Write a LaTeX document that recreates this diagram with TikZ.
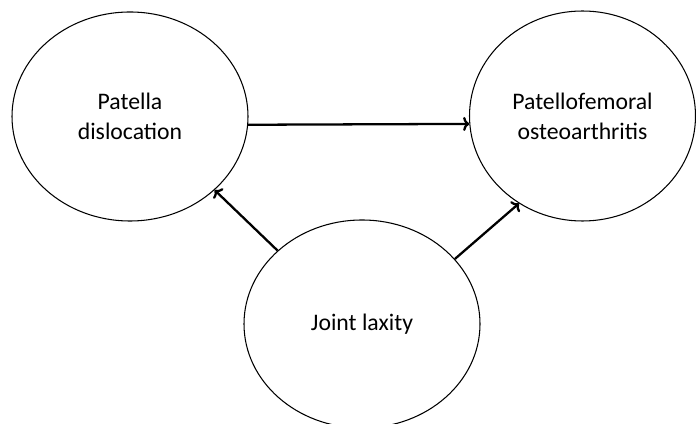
\documentclass[tikz,border=0pt]{standalone}
\usepackage{fontspec}
\setmainfont{Carlito}
\usetikzlibrary{shapes.geometric,arrows.meta}
\begin{document}
\begin{tikzpicture}[
        bubble/.style={draw, ellipse, semithick, inner sep=0pt, align=center,
            font=\fontsize{13.5}{17}\selectfont},
        link/.style={-{To[length=3.5pt,width=8pt]}, line width=1.3pt}
    ]
        \useasboundingbox (0,0) rectangle (13.92,8.46);
        \node[bubble, minimum width=4.72cm, minimum height=4.18cm] (disloc) at (2.6,6.13) {Patella\\dislocation};
        \node[bubble, minimum width=4.52cm, minimum height=4.2cm] (oa) at (11.65,6.14) {Patellofemoral\\osteoarthritis};
        \node[bubble, minimum width=4.72cm, minimum height=4.16cm] (laxity) at (7.24,1.98) {Joint laxity};
        \draw[link] (disloc.-4) -- (oa.184);
        \draw[link] (laxity.139) -- (disloc.319);
        \draw[link] (laxity.35) -- (oa.234);
    \end{tikzpicture}
\end{document}
